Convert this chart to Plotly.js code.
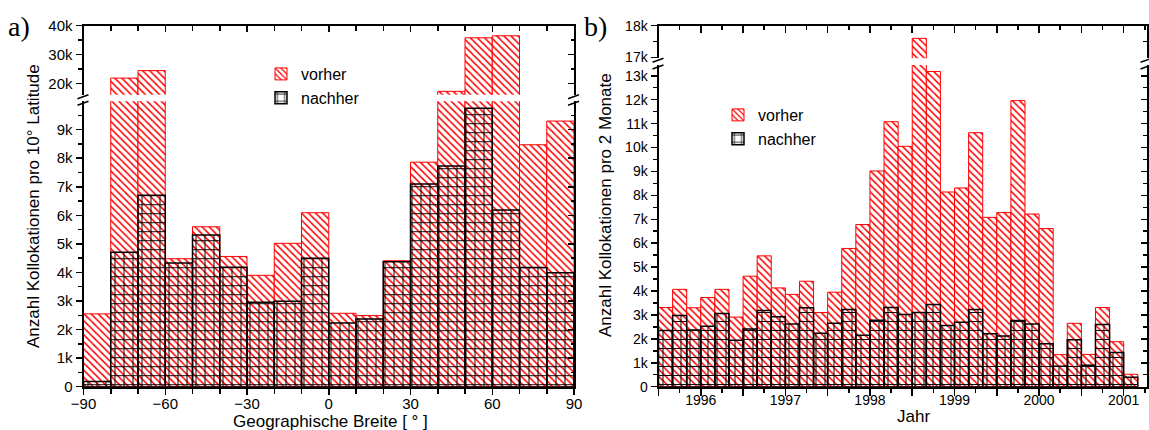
<!DOCTYPE html>
<html><head><meta charset="utf-8">
<script src="https://cdn.plot.ly/plotly-3.0.1.min.js"></script>
<style>html,body{margin:0;padding:0;background:#fff}#chart{width:1149px;height:430px}</style>
</head><body><div id="chart"></div>
<script>
// ---- Panel a) : collocations per 10° latitude band ----
const latBins = [-85,-75,-65,-55,-45,-35,-25,-15,-5,5,15,25,35,45,55,65,75,85];
const latVorher = [2550,21800,24400,4480,5600,4560,3900,5020,6090,2570,2490,4410,7860,17200,35800,36500,8470,9300];
const latNachher = [180,4710,6700,4330,5310,4180,2960,2990,4500,2230,2370,4370,7100,7730,9750,6190,4170,3990];

// ---- Panel b) : collocations per two months ----
const periods = ['1995-07','1995-09','1995-11','1996-01','1996-03','1996-05','1996-07','1996-09','1996-11',
  '1997-01','1997-03','1997-05','1997-07','1997-09','1997-11','1998-01','1998-03','1998-05','1998-07',
  '1998-09','1998-11','1999-01','1999-03','1999-05','1999-07','1999-09','1999-11','2000-01','2000-03',
  '2000-05','2000-07','2000-09','2000-11','2001-01'];
const monVorher = [3310,4070,3300,3730,4070,2910,4620,5470,4130,3860,4410,3100,3950,5780,6780,9020,11080,10050,17600,
  13180,8140,8310,10620,7080,7280,11960,7220,6610,1340,2650,1350,3310,1880,520];
const monNachher = [2350,2980,2370,2530,3060,1940,2410,3190,2920,2620,3300,2230,2650,3230,2150,2780,3310,3020,3100,
  3440,2560,2690,3230,2210,2120,2770,2620,1800,850,1960,900,2600,1430,400];

const yearTickVals = [1995.5,1996,1996.5,1997,1997.5,1998,1998.5,1999,1999.5,2000,2000.5,2001];
const yearTickText = ['','1996','','1997','','1998','','1999','','2000','','2001'];
const yearMinorVals = [1995.75,1996.25,1996.75,1997.25,1997.75,1998.25,1998.75,1999.25,1999.75,2000.25,2000.75,2001.25];

const labels = {vorher:'vorher', nachher:'nachher'};

// period "YYYY-MM" -> decimal-year centre of a two-month bin
const periodCenter = p => { const [y,m] = p.split('-').map(Number); return y + (m - 1) / 12 + 1 / 12; };
const monX = periods.map(periodCenter);
const monW = 2 / 12;
const latW = 10;

const W = 1149, H = 430;
const px = v => v / W, py = v => (H - v) / H;

// geometry (pixels)
const L = {x0:83.5, x1:574, loBot:386.7, loTop:101.2, upBot:94.8, upTop:25.7};
const R = {x0:658.5, x1:1146.5, loBot:386.7, loTop:65, upBot:58.3, upTop:25.7};

function red(x, y, w, xa, ya, leg, show) {
  return {type:'bar', x:x, y:y, width:w, xaxis:xa, yaxis:ya, name:labels.vorher, legend:leg, showlegend:show,
    hoverinfo:'skip',
    marker:{color:'rgba(0,0,0,0)', line:{color:'#ff0000', width:1},
      pattern:{shape:'\\', fgcolor:'#ff0000', bgcolor:'#ffffff', size:5, solidity:0.3}}};
}
function blk(x, y, w, xa, ya, leg, show) {
  return {type:'bar', x:x, y:y, width:w, xaxis:xa, yaxis:ya, name:labels.nachher, legend:leg, showlegend:show,
    hoverinfo:'skip',
    marker:{color:'rgba(0,0,0,0)', line:{color:'#000000', width:1.5},
      pattern:{shape:'+', fgcolor:'#000000', bgcolor:'rgba(0,0,0,0)', size:9, solidity:0.2}}};
}
// empty helper traces so that the frame / label axes get drawn
function frame(xa, ya) {
  return {type:'scatter', mode:'markers', x:[], y:[], xaxis:xa, yaxis:ya, showlegend:false, hoverinfo:'skip'};
}

const data = [
  red(latBins, latVorher, latW, 'x', 'y', 'legend', true),
  blk(latBins, latNachher, latW, 'x', 'y', 'legend', true),
  red(latBins, latVorher, latW, 'x', 'y2', 'legend', false),
  blk(latBins, latNachher, latW, 'x', 'y2', 'legend', false),
  red(monX, monVorher, monW, 'x3', 'y5', 'legend2', true),
  blk(monX, monNachher, monW, 'x3', 'y5', 'legend2', true),
  red(monX, monVorher, monW, 'x3', 'y6', 'legend2', false),
  blk(monX, monNachher, monW, 'x3', 'y6', 'legend2', false),
  frame('x2', 'y2'), frame('x', 'y3'), frame('x', 'y4'), frame('x5', 'y'),
  frame('x4', 'y6'), frame('x3', 'y7'), frame('x3', 'y8'), frame('x6', 'y5')
];

const fam = 'Liberation Sans, Arial, sans-serif';
function base(size) {
  return {showline:true, linecolor:'#000', linewidth:2, ticks:'outside', ticklen:6, tickwidth:1.5, tickcolor:'#000',
    showgrid:false, zeroline:false, fixedrange:true, tickfont:{family:fam, size:size, color:'#000'}};
}
function minor(dt, t0, dir, len) { return {dtick:dt, tick0:t0, ticks:dir, ticklen:len, tickwidth:1.5, tickcolor:'#000'}; }
function mirrorY(over, anchor, rng, dt, t0, mdt) {
  return Object.assign(base(14), {overlaying:over, side:'right', anchor:anchor,
    range:rng, tickmode:'linear', tick0:t0, dtick:dt, ticks:'inside', showticklabels:false, minor:minor(mdt, t0, 'inside', 3.5)});
}

const layout = {
  width:W, height:H, margin:{l:0, r:0, t:0, b:0}, paper_bgcolor:'#fff', plot_bgcolor:'rgba(0,0,0,0)',
  barmode:'overlay', hovermode:false, font:{family:fam, color:'#000'},
  // panel a
  xaxis:Object.assign(base(15), {domain:[px(L.x0), px(L.x1)], anchor:'y', range:[-90, 90], tickmode:'linear', tick0:-90, dtick:30,
    showticklabels:false, minor:minor(10, -90, 'outside', 5)}),
  xaxis5:Object.assign(base(15), {overlaying:'x', anchor:'y', side:'bottom', range:[-90, 90], tickmode:'linear', tick0:-90, dtick:30,
    ticks:'', showline:false, ticklabelstandoff:6}),
  xaxis2:Object.assign(base(15), {overlaying:'x', anchor:'y2', side:'top', range:[-90, 90], tickmode:'linear', tick0:-90, dtick:30,
    ticks:'inside', showticklabels:false, minor:minor(10, -90, 'inside', 5)}),
  yaxis:Object.assign(base(15), {domain:[py(L.loBot), py(L.loTop)], anchor:'x', range:[0, 9995], tickmode:'linear', tick0:0, dtick:1000,
    tickformat:'~s', minor:minor(500, 0, 'outside', 3.5)}),
  yaxis2:Object.assign(base(15), {domain:[py(L.upBot), py(L.upTop)], anchor:'x', range:[16000, 40000], tickmode:'linear', tick0:0, dtick:10000,
    tickformat:'~s', minor:minor(5000, 0, 'outside', 3.5)}),
  yaxis3:mirrorY('y', 'x', [0, 9995], 1000, 0, 500),
  yaxis4:mirrorY('y2', 'x', [16000, 40000], 10000, 0, 5000),
  // panel b
  xaxis3:Object.assign(base(14), {domain:[px(R.x0), px(R.x1)], anchor:'y5', range:[1995.5, 2001.27], tickmode:'array',
    tickvals:yearTickVals, ticktext:yearTickText, ticklen:7, showticklabels:false,
    minor:{tickmode:'array', tickvals:yearMinorVals, ticks:'outside', ticklen:4, tickwidth:1.5, tickcolor:'#000'}}),
  xaxis6:Object.assign(base(14), {overlaying:'x3', anchor:'y5', side:'bottom', range:[1995.5, 2001.27], tickmode:'array',
    tickvals:yearTickVals, ticktext:yearTickText, ticks:'', showline:false, ticklabelstandoff:3}),
  xaxis4:Object.assign(base(14), {overlaying:'x3', anchor:'y6', side:'top', range:[1995.5, 2001.27], tickmode:'array',
    tickvals:yearTickVals, ticktext:yearTickText, ticks:'inside', ticklen:7, showticklabels:false,
    minor:{tickmode:'array', tickvals:yearMinorVals, ticks:'inside', ticklen:4, tickwidth:1.5, tickcolor:'#000'}}),
  yaxis5:Object.assign(base(14), {domain:[py(R.loBot), py(R.loTop)], anchor:'x3', range:[0, 13450], tickmode:'linear', tick0:0, dtick:1000,
    tickformat:'~s', minor:minor(500, 0, 'outside', 3.5)}),
  yaxis6:Object.assign(base(14), {domain:[py(R.upBot), py(R.upTop)], anchor:'x3', range:[16970, 18000], tickmode:'linear', tick0:0, dtick:1000,
    tickformat:'~s', minor:minor(500, 0, 'outside', 3.5)}),
  yaxis7:mirrorY('y5', 'x3', [0, 13450], 1000, 0, 500),
  yaxis8:mirrorY('y6', 'x3', [16970, 18000], 1000, 0, 500),
  legend:{x:px(261), y:py(57), xanchor:'left', yanchor:'top', bgcolor:'rgba(0,0,0,0)', font:{family:fam, size:16, color:'#000'},
    traceorder:'normal', tracegroupgap:0},
  legend2:{x:px(718), y:py(98), xanchor:'left', yanchor:'top', bgcolor:'rgba(0,0,0,0)', font:{family:fam, size:16, color:'#000'},
    traceorder:'normal', tracegroupgap:0},
  annotations:[
    {text:'a)', x:px(6), y:py(26), xref:'paper', yref:'paper', xanchor:'left', yanchor:'middle', showarrow:false,
      font:{family:'Liberation Serif, DejaVu Serif, serif', size:28, color:'#000'}},
    {text:'b)', x:px(582), y:py(26), xref:'paper', yref:'paper', xanchor:'left', yanchor:'middle', showarrow:false,
      font:{family:'Liberation Serif, DejaVu Serif, serif', size:28, color:'#000'}},
    {text:'Anzahl Kollokationen pro 10° Latitude', x:px(33), y:py(206), xref:'paper', yref:'paper', textangle:-90,
      xanchor:'center', yanchor:'middle', showarrow:false, font:{family:fam, size:17, color:'#000'}},
    {text:'Geographische Breite [ ° ]', x:px(330), y:py(421), xref:'paper', yref:'paper',
      xanchor:'center', yanchor:'middle', showarrow:false, font:{family:fam, size:17, color:'#000'}},
    {text:'Anzahl Kollokationen pro 2 Monate', x:px(606), y:py(205), xref:'paper', yref:'paper', textangle:-90,
      xanchor:'center', yanchor:'middle', showarrow:false, font:{family:fam, size:17, color:'#000'}},
    {text:'Jahr', x:px(913), y:py(416), xref:'paper', yref:'paper',
      xanchor:'center', yanchor:'middle', showarrow:false, font:{family:fam, size:17, color:'#000'}}
  ],
  shapes:[]
};

// axis-break marks "//" on each vertical spine
function breakMarks(xs, gUp, gLo) {
  const out = [];
  [gUp, gLo].forEach(g => {
    out.push({type:'line', xref:'paper', yref:'paper', x0:px(xs - 6), y0:py(g + 4), x1:px(xs + 5), y1:py(g),
      line:{color:'#000', width:1.5}});
  });
  return out;
}
[L, R].forEach(P => {
  layout.shapes.push(...breakMarks(P.x0, P.upBot, P.loTop));
  layout.shapes.push(...breakMarks(P.x1, P.upBot, P.loTop));
});

Plotly.newPlot('chart', data, layout, {displayModeBar:false, staticPlot:true});
</script>
</body></html>
